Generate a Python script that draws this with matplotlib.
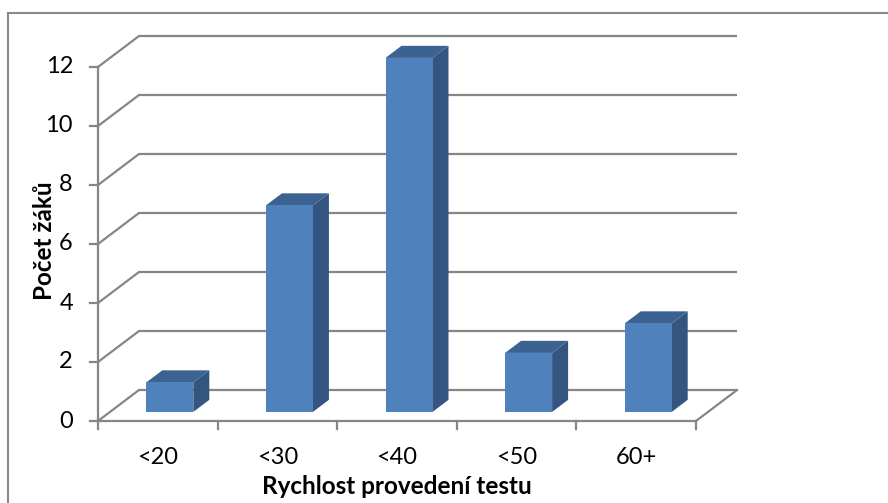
import matplotlib
matplotlib.use("Agg")
import matplotlib.pyplot as plt
from matplotlib.patches import Polygon

# Data
categories = ["<20", "<30", "<40", "<50", "60+"]
counts = [1, 7, 12, 2, 3]
y_ticks = [0, 2, 4, 6, 8, 10, 12]
x_title = "Rychlost provedení testu"
y_title = "Počet žáků"

plt.rcParams["font.family"] = ["Lato", "DejaVu Sans"]

W, H, DPI = 888, 503, 100
fig = plt.figure(figsize=(W / DPI, H / DPI), dpi=DPI)
ax = fig.add_axes([0, 0, 1, 1])

# pixel geometry of the front plane: category unit and value unit
X0, Y0 = 98, 421          # origin (pixels)
CAT_PX, VAL_PX = 119.6, 29.5
ax.set_xlim(-X0 / CAT_PX, (W - X0) / CAT_PX)
ax.set_ylim((Y0 - H) / VAL_PX, Y0 / VAL_PX)
ax.axis("off")

# oblique depth offset for the full depth of the plot box (data units)
DX, DY = 41 / CAT_PX, 31 / VAL_PX
n = len(categories)

def proj(u, v, d):
    return (u + d * DX, v + d * DY)

grid_c = "#868686"
lw = 1.6
tick_fs = 17
title_fs = 17.5

# back wall gridlines and side wall lines
for v in y_ticks:
    x1, y1 = proj(0, v, 0)
    x2, y2 = proj(0, v, 1)
    x3, y3 = proj(n, v, 1)
    ax.plot([x1, x2, x3], [y1, y2, y3], color=grid_c, lw=lw, zorder=1,
            solid_capstyle="butt", solid_joinstyle="miter")

# floor right edge
fx1, fy1 = proj(n, 0, 0)
fx2, fy2 = proj(n, 0, 1)
ax.plot([fx1, fx2], [fy1, fy2], color=grid_c, lw=lw, zorder=1)

# front axes
ax.plot([0, n], [0, 0], color=grid_c, lw=lw, zorder=1)
ax.plot([0, 0], [0, max(y_ticks)], color=grid_c, lw=lw, zorder=1)

tick_len_x = 8 / CAT_PX
tick_len_y = 8 / VAL_PX
for v in y_ticks:
    ax.plot([-tick_len_x, 0], [v, v], color=grid_c, lw=lw, zorder=1)
    ax.text(-25 / CAT_PX, v, str(v), ha="right", va="center",
            fontsize=tick_fs, color="#000000")
for i in range(n + 1):
    ax.plot([i, i], [0, -tick_len_y], color=grid_c, lw=lw, zorder=1)

for i, lab in enumerate(categories):
    ax.text(i + 0.5, -37 / VAL_PX, lab, ha="center", va="center",
            fontsize=tick_fs, color="#000000")

# 3D columns
front_c, side_c, top_c = "#4F81BD", "#34557F", "#3C6291"
d0, d1 = 12 / 41, 28 / 41
bw = 47 / CAT_PX
for i, val in enumerate(counts):
    uc = i + 0.5
    ul, ur = uc - bw / 2, uc + bw / 2
    front = [proj(ul, 0, d0), proj(ur, 0, d0), proj(ur, val, d0), proj(ul, val, d0)]
    side = [proj(ur, 0, d0), proj(ur, 0, d1), proj(ur, val, d1), proj(ur, val, d0)]
    top = [proj(ul, val, d0), proj(ur, val, d0), proj(ur, val, d1), proj(ul, val, d1)]
    ax.add_patch(Polygon(side, closed=True, facecolor=side_c, edgecolor="none", zorder=3))
    ax.add_patch(Polygon(top, closed=True, facecolor=top_c, edgecolor="none", zorder=3))
    ax.add_patch(Polygon(front, closed=True, facecolor=front_c, edgecolor="none", zorder=4))

# axis titles
ax.text(44 / CAT_PX - X0 / CAT_PX, (Y0 - 241) / VAL_PX, y_title, rotation=90,
        ha="center", va="center", fontsize=title_fs, fontweight="bold", color="#000000")
ax.text((397 - X0) / CAT_PX, (Y0 - 487) / VAL_PX, x_title, ha="center", va="center",
        fontsize=title_fs, fontweight="bold", color="#000000")

# chart area border (top and left edges)
bx, by = (8 - X0) / CAT_PX, (Y0 - 13) / VAL_PX
ax.plot([bx, (W - X0) / CAT_PX], [by, by], color="#898989", lw=1.5, zorder=1)
ax.plot([bx, bx], [by, (Y0 - H) / VAL_PX], color="#898989", lw=1.5, zorder=1)

fig.savefig("out.png", dpi=DPI)
